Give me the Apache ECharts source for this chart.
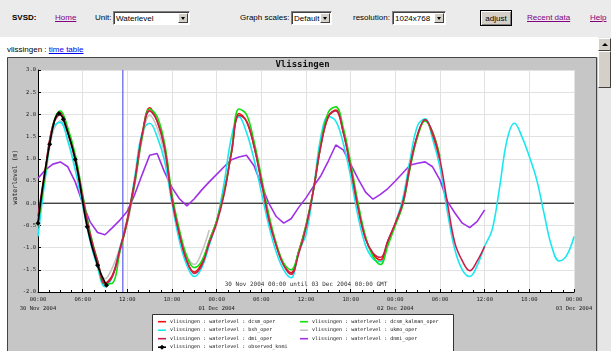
<!DOCTYPE html>
<html><head><meta charset="utf-8">
<script src="https://cdn.jsdelivr.net/npm/echarts@6/dist/echarts.min.js"></script>
<style>
html,body{margin:0;padding:0;width:611px;height:351px;overflow:hidden;background:#fff;font-family:Arial,"Liberation Sans",sans-serif;}
#topbar{position:absolute;left:0;top:0;width:611px;height:37px;background:#ebebeb;}
.t{position:absolute;font-size:8px;line-height:10px;top:13px;color:#000;white-space:nowrap;}
.lnk{color:#800080;text-decoration:underline;}
.sel{position:absolute;top:11px;height:14px;background:#fff;border:1px solid;border-color:#808080 #fff #fff #808080;box-shadow:inset 1px 1px 0 #404040;font-size:8px;line-height:13px;padding-left:2px;box-sizing:border-box;white-space:nowrap;overflow:hidden;}
.arr{position:absolute;right:1px;top:1px;width:10px;height:10px;background:#d4d0c8;border:1px solid;border-color:#fff #404040 #404040 #fff;box-sizing:border-box;}
.arr:after{content:"";position:absolute;left:2px;top:3px;border-left:2px solid transparent;border-right:2px solid transparent;border-top:3px solid #000;}
#btn{position:absolute;left:480px;top:10px;width:32px;height:16px;background:#d4d0c8;border:1px solid #000;box-shadow:inset 1px 1px 0 #fff, inset -1px -1px 0 #808080;font-size:8px;line-height:15px;text-align:center;box-sizing:border-box;}
#head{position:absolute;left:7px;top:45px;font-size:8px;line-height:10px;}
#head a{color:#0000ee;text-decoration:underline;}
#sb{position:absolute;left:598px;top:37px;width:13px;height:314px;background:#e6e6e6;}
#sbup{position:absolute;left:0;top:1px;width:13px;height:13px;background:#d4d0c8;border:1px solid;border-color:#fff #404040 #404040 #fff;box-sizing:border-box;}
#sbup:after{content:"";position:absolute;left:3px;top:4px;border-left:3px solid transparent;border-right:3px solid transparent;border-bottom:3px solid #000;}
#sbth{position:absolute;left:0;top:14px;width:13px;height:37px;background:#d4d0c8;border:1px solid;border-color:#fff #404040 #404040 #fff;box-sizing:border-box;}
#chart{position:absolute;left:7px;top:57px;width:591px;height:294px;}
</style>
</head>
<body>
<div id="topbar">
  <div class="t" style="left:12px;font-weight:bold;">SVSD:</div>
  <div class="t lnk" style="left:55px;">Home</div>
  <div class="t" style="left:95px;">Unit:</div>
  <div class="sel" style="left:113px;width:77px;">Waterlevel<div class="arr"></div></div>
  <div class="t" style="left:240px;">Graph scales:</div>
  <div class="sel" style="left:291px;width:41px;">Default<div class="arr"></div></div>
  <div class="t" style="left:353px;">resolution:</div>
  <div class="sel" style="left:392px;width:54px;">1024x768<div class="arr"></div></div>
  <div id="btn">adjust</div>
  <div class="t lnk" style="left:527px;">Recent data</div>
  <div class="t lnk" style="left:590px;">Help</div>
</div>
<div id="head">vlissingen : <a>time table</a></div>
<div id="sb"><div id="sbup"></div><div id="sbth"></div></div>
<div id="chart"></div>
<script>
// ---- data (hourly values, hour 0 = 30 Nov 2004 00:00 GMT) ----
const tickTimes = ['00:00','06:00','12:00','18:00','00:00','06:00','12:00','18:00','00:00','06:00','12:00','18:00','00:00'];
const tickDates = ['30 Nov 2004','','','','01 Dec 2004','','','','02 Dec 2004','','','','03 Dec 2004'];

const dcsmOper = [-0.45,0.75,1.75,2.04,1.6,1.0,0.1,-0.75,-1.3,-1.8,-1.62,-1.05,-0.35,0.5,1.55,2.15,1.85,1.25,0.1,-0.7,-1.3,-1.55,-1.35,-0.85,-0.4,0.25,1.15,2.02,1.85,1.3,0.5,-0.35,-0.95,-1.38,-1.57,-1.1,-0.5,0.3,1.3,1.95,2.1,1.6,0.8,-0.1,-0.8,-1.15,-1.28,-0.85,-0.45,0.0,0.85,1.55,1.88,1.55,0.97];
const dcsmKalman = [-0.5,0.7,1.75,2.08,1.7,1.1,0.2,-0.65,-1.3,-1.82,-1.8,-1.1,-0.4,0.45,1.5,2.12,1.95,1.35,0.2,-0.6,-1.2,-1.45,-1.3,-0.85,-0.4,0.25,1.2,2.12,2.0,1.4,0.6,-0.25,-0.9,-1.35,-1.5,-1.1,-0.5,0.3,1.35,2.05,2.17,1.7,0.9,0.0,-0.75,-1.2,-1.38,-0.95,-0.5,-0.05,0.8,1.5,1.85,1.6,1.05];
const bshOper = [-0.75,0.6,1.7,1.82,1.4,0.75,-0.05,-0.85,-1.45,-1.88,-1.65,-1.0,-0.4,0.6,1.6,1.8,1.5,0.95,0.0,-0.85,-1.4,-1.65,-1.45,-0.95,-0.4,0.45,1.5,1.95,1.6,1.0,0.25,-0.5,-1.1,-1.5,-1.68,-1.1,-0.7,0.3,1.5,1.95,1.85,1.35,0.6,-0.3,-0.95,-1.25,-1.32,-0.9,-0.45,0.1,1.0,1.75,1.9,1.45,0.8,-0.2,-1.05,-1.5,-1.65,-1.4,-0.97,-0.6,0.35,1.42,1.8,1.5,1.05,0.52,-0.25,-0.97,-1.3,-1.18,-0.75];
const dmiOper = [-0.3,0.8,1.75,2.0,1.6,1.0,0.15,-0.7,-1.3,-1.82,-1.65,-1.05,-0.4,0.5,1.55,2.08,1.85,1.25,0.1,-0.7,-1.3,-1.58,-1.4,-0.9,-0.45,0.2,1.15,1.98,1.85,1.3,0.5,-0.35,-0.95,-1.4,-1.6,-1.15,-0.55,0.3,1.3,1.95,2.08,1.6,0.8,-0.1,-0.8,-1.12,-1.22,-0.85,-0.45,0.0,0.85,1.55,1.88,1.6,0.97,0.0,-0.9,-1.3,-1.52,-1.3,-0.97];
const ukmoOper = [-0.5,0.6,1.6,1.85,1.45,0.85,0.0,-0.8,-1.35,-1.7,-1.45,-1.0,-0.45,0.4,1.45,1.98,1.7,1.1,0.05,-0.75,-1.2,-1.38,-1.1,-0.6];
const dnmiOper = [0.56,0.75,0.88,0.93,0.82,0.48,0.0,-0.42,-0.66,-0.71,-0.55,-0.38,-0.18,0.2,0.65,1.08,1.12,0.7,0.35,0.1,-0.06,0.1,0.3,0.48,0.65,0.82,0.98,1.04,1.08,0.85,0.42,0.0,-0.3,-0.45,-0.35,-0.1,0.12,0.38,0.62,0.95,1.31,1.2,0.88,0.55,0.25,0.09,0.2,0.33,0.5,0.68,0.86,0.9,0.93,0.82,0.52,0.04,-0.22,-0.45,-0.55,-0.41,-0.15];
const obsHours = [0,1.57,2.8,3.4,5.0,6.6,8.0,9.2];
const obsValues = [-0.45,1.33,2.02,1.89,0.99,-0.53,-1.4,-1.85];
const nowLine = [[11.4, -2], [11.4, 3]];   // "now" marker (blue vertical)
const zeroLine = [[0, 0], [72, 0]];         // reference level line

const names = {
  dcsm: 'vlissingen : waterlevel : dcsm_oper',
  bsh: 'vlissingen : waterlevel : bsh_oper',
  dmi: 'vlissingen : waterlevel : dmi_oper',
  obs: 'vlissingen : waterlevel : observed_knmi',
  kal: 'vlissingen : waterlevel : dcsm_kalman_oper',
  ukmo: 'vlissingen : waterlevel : ukmo_oper',
  dnmi: 'vlissingen : waterlevel : dnmi_oper'
};
const colors = {dcsm: '#f01010', bsh: '#18e8f0', dmi: '#c8204a', obs: '#000000', kal: '#10e010', ukmo: '#c4c4c4', dnmi: '#a030e8'};
const legendColumns = [['dcsm', 'bsh', 'dmi', 'obs'], ['kal', 'ukmo', 'dnmi']];

const hourly = arr => arr.map((v, i) => [i, v]);
const mono = '"DejaVu Sans Mono", monospace';

function lineSeries(key, data, smooth, z) {
  return {
    name: names[key], type: 'line', data: data, symbol: 'none', smooth: smooth,
    lineStyle: {color: colors[key], width: 1.6}, itemStyle: {color: colors[key]}, z: z, silent: true
  };
}
function refLine(data, color, z) {
  return {type: 'line', data: data, symbol: 'none', silent: true, z: z,
    lineStyle: {color: color, width: 1}, itemStyle: {color: color}};
}

// hand-built legend box (two columns, filled top to bottom)
const legendGraphics = [
  {type: 'rect', z: 1, shape: {x: 145.5, y: 257.5, width: 301, height: 60}, style: {fill: '#fff', stroke: '#333', lineWidth: 1}}
];
const colX = [151, 293], rowY0 = 264.7, rowStep = 8.5;
legendColumns.forEach((col, c) => col.forEach((key, r) => {
  const y = rowY0 + r * rowStep, x = colX[c];
  legendGraphics.push({type: 'line', z: 2, shape: {x1: x, y1: y, x2: x + 8, y2: y}, style: {stroke: colors[key], lineWidth: 1.6}});
  if (key === 'obs') {
    legendGraphics.push({type: 'polygon', z: 2, shape: {points: [[x + 4, y - 2.5], [x + 6.5, y], [x + 4, y + 2.5], [x + 1.5, y]]}, style: {fill: '#000'}});
  }
  legendGraphics.push({type: 'text', z: 2, x: x + 12, y: y, style: {text: names[key], fontSize: 5, fontFamily: mono, fill: '#111', verticalAlign: 'middle'}});
}));

const chart = echarts.init(document.getElementById('chart'), null, {renderer: 'canvas'});
chart.setOption({
  animation: false,
  backgroundColor: '#c6c6c6',
  title: {text: 'Vlissingen', left: 'center', top: 3, padding: 0,
    textStyle: {fontFamily: mono, fontSize: 9, fontWeight: 'bold', color: '#111'}},
  grid: {left: 31, right: 24, top: 13, height: 222, show: true, backgroundColor: '#ffffff', borderWidth: 0, outerBoundsMode: 'none', containLabel: false},
  xAxis: {
    type: 'value', min: 0, max: 72, interval: 6,
    axisLine: {onZero: false, lineStyle: {color: '#000', width: 1}},
    axisTick: {inside: true, length: 3, lineStyle: {color: '#000'}},
    minorTick: {show: true, splitNumber: 4, length: 2, lineStyle: {color: '#000'}},
    splitLine: {show: true, lineStyle: {color: '#e2e2e2', width: 1}},
    axisLabel: {
      fontSize: 5.5, fontFamily: mono, color: '#222', margin: 3, lineHeight: 9,
      showMinLabel: true, showMaxLabel: true,
      formatter: v => { const i = Math.round(v / 6); return tickDates[i] ? tickTimes[i] + '\n' + tickDates[i] : tickTimes[i]; }
    }
  },
  yAxis: {
    type: 'value', min: -2, max: 3, interval: 0.5,
    axisLine: {show: true, onZero: false, lineStyle: {color: '#000', width: 1}},
    axisTick: {show: true, inside: true, length: 3, lineStyle: {color: '#000'}},
    splitLine: {show: true, lineStyle: {color: '#e2e2e2', width: 1}},
    axisLabel: {fontSize: 5.5, fontFamily: mono, color: '#222', margin: 2, formatter: v => v.toFixed(1)}
  },
  graphic: legendGraphics.concat([
    {type: 'rect', z: 100, shape: {x: 0.5, y: 0.5, width: 589, height: 300}, style: {fill: 'none', stroke: '#444', lineWidth: 1}},
    {type: 'text', z: 3, x: 299, y: 227, style: {text: '30 Nov 2004 00:00 until 03 Dec 2004 00:00 GMT', fontSize: 6, fontFamily: mono, fill: '#333', align: 'center', verticalAlign: 'middle'}},
    {type: 'text', z: 3, x: 8, y: 120, rotation: Math.PI / 2, style: {text: 'waterlevel (m)', fontSize: 6.5, fontFamily: mono, fill: '#222', align: 'center', verticalAlign: 'middle'}}
  ]),
  series: [
    refLine(zeroLine, '#000000', 1),
    refLine(nowLine, '#3c3cf0', 1),
    lineSeries('ukmo', hourly(ukmoOper), 0.4, 2),
    lineSeries('dnmi', hourly(dnmiOper), false, 3),
    lineSeries('bsh', hourly(bshOper), 0.4, 4),
    lineSeries('dcsm', hourly(dcsmOper), 0.4, 5),
    lineSeries('kal', hourly(dcsmKalman), 0.4, 6),
    lineSeries('dmi', hourly(dmiOper), 0.4, 7),
    {
      name: names.obs, type: 'line', smooth: 0.4, z: 8, silent: true,
      data: obsHours.map((h, i) => [h, obsValues[i]]),
      symbol: 'diamond', symbolSize: 5, showSymbol: true,
      lineStyle: {color: colors.obs, width: 1.6}, itemStyle: {color: colors.obs}
    }
  ]
});
</script>
</body></html>
